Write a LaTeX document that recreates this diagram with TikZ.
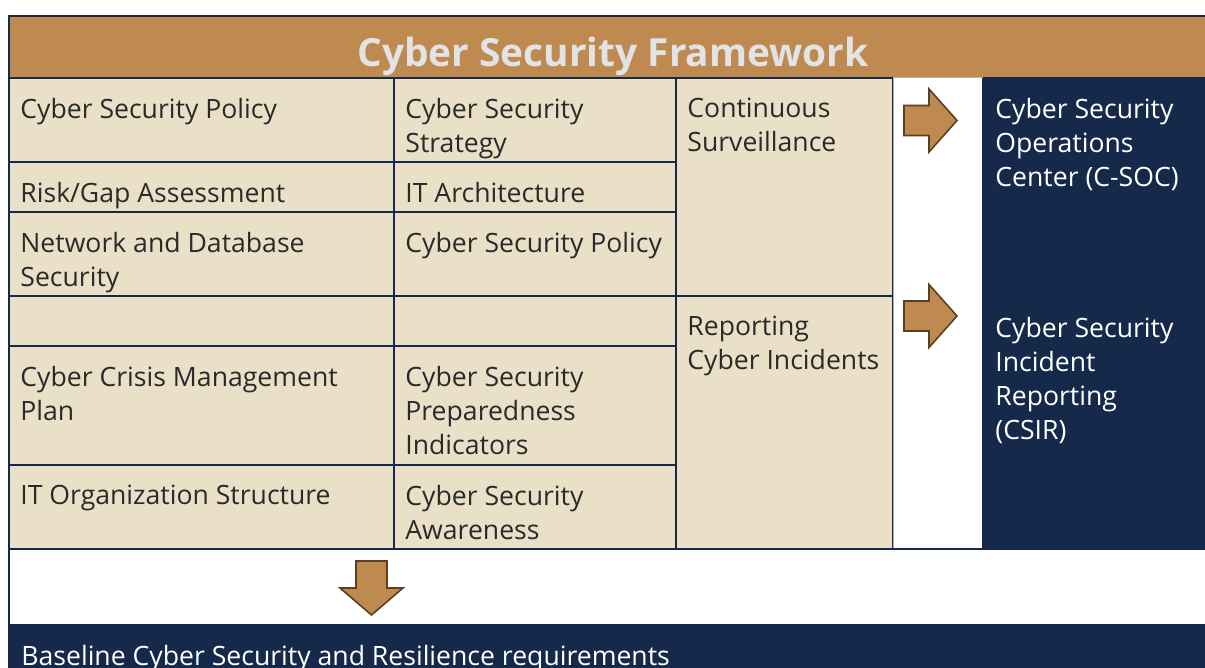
\documentclass[tikz,border=0pt]{standalone}
\usepackage{fontspec}
\setmainfont{Open Sans}
\definecolor{fwNavy}{HTML}{152A4A}
\definecolor{fwTan}{HTML}{BF8A50}
\definecolor{fwBeige}{HTML}{EAE0C8}
\definecolor{fwTitleGrey}{HTML}{E2E3E6}
\definecolor{fwArrowLine}{HTML}{5C4021}
\definecolor{fwInk}{HTML}{2A2A2A}
\tikzset{
  fwGrid/.style={draw=fwNavy, line width=1pt, fill=fwBeige},
  fwText/.style={anchor=north west, inner sep=0pt, align=left, text=fwInk, font=\fontsize{13.3}{17}\selectfont},
  fwArrow/.style={draw=fwArrowLine, line width=0.8pt, fill=fwTan, line join=miter},
}
% cell: name, x1, y1, x2, y2, text
\newcommand{\fwCell}[6]{\draw[fwGrid] (#2,#3) rectangle (#4,#5); \node[fwText] (#1) at (#2+11,#3+19.5) {#6};}
% arrow pointing right from a named tail coordinate
\newcommand{\fwRightArrow}[1]{\draw[fwArrow] (#1) ++(0,-15) -- ++(25,0) -- ++(0,-16.5) -- ++(28,31.5) -- ++(-28,31.5) -- ++(0,-16.5) -- ++(-25,0) -- cycle;}

\begin{document}
\begin{tikzpicture}[x=0.5pt,y=-0.5pt]
\useasboundingbox (0,0) rectangle (1205,668);
\clip (0,0) rectangle (1205,668);
% header band
\draw[draw=fwNavy, line width=1pt, fill=fwTan] (9,16) rectangle (1230,78);
\node[anchor=base, inner sep=0pt, text=fwTitleGrey, font=\fontsize{19.4}{23}\selectfont\bfseries] (title) at (613,67) {Cyber Security Framework};
% left two columns
\fwCell{polA}{9}{78}{394}{162}{Cyber Security Policy}
\fwCell{strat}{394}{78}{676}{162}{Cyber Security\\Strategy}
\fwCell{risk}{9}{162}{394}{212}{Risk/Gap Assessment}
\fwCell{arch}{394}{162}{676}{212}{IT Architecture}
\fwCell{netdb}{9}{212}{394}{296}{Network and Database\\Security}
\fwCell{polB}{394}{212}{676}{296}{Cyber Security Policy}
\fwCell{emptyA}{9}{296}{394}{346}{}
\fwCell{emptyB}{394}{296}{676}{346}{}
\fwCell{crisis}{9}{346}{394}{465}{Cyber Crisis Management\\Plan}
\fwCell{prep}{394}{346}{676}{465}{Cyber Security\\Preparedness\\Indicators}
\fwCell{org}{9}{465}{394}{549}{IT Organization Structure}
\fwCell{aware}{394}{465}{676}{549}{Cyber Security\\Awareness}
% third column
\fwCell{surv}{676}{78}{893}{296}{Continuous\\Surveillance}
\fwCell{incid}{676}{296}{893}{549}{Reporting\\Cyber Incidents}
% arrow column and outcomes
\draw[draw=black!30, line width=0.5pt, fill=white] (893,78) rectangle (982,549);
\fill[fwNavy] (982,78) rectangle (1230,549);
\node[fwText, text=white] (csoc) at (995,97.5) {Cyber Security\\Operations\\Center (C-SOC)};
\node[fwText, text=white] (csir) at (995,316.5) {Cyber Security\\Incident\\Reporting\\(CSIR)};
\coordinate (arrSoc) at (904,120.5);
\coordinate (arrSir) at (904,316);
\fwRightArrow{arrSoc}
\fwRightArrow{arrSir}
% lower band
\draw[draw=fwNavy, line width=1pt, fill=white] (9,549) rectangle (1230,625);
\coordinate (arrBase) at (371.5,561);
\draw[fwArrow] (arrBase) ++(-15.5,0) -- ++(0,27) -- ++(-16,0) -- ++(31.5,27) -- ++(31.5,-27) -- ++(-16,0) -- ++(0,-27) -- cycle;
\fill[fwNavy] (8,625) rectangle (1230,700);
\node[fwText, text=white] (baseline) at (21,645) {Baseline Cyber Security and Resilience requirements};
\end{tikzpicture}
\end{document}
